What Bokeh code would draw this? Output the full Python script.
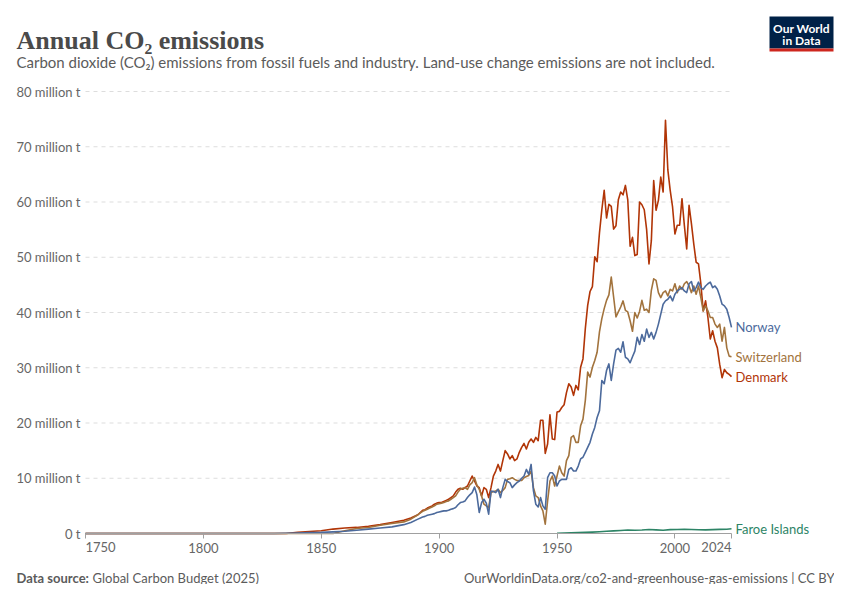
from bokeh.plotting import figure
from bokeh.models import Range1d, FixedTicker
from bokeh.core.properties import value
from bokeh.embed import file_html
from bokeh.resources import INLINE

# ---------------- data (million tonnes CO2) ----------------
years_annual = list(range(1896, 2025))

norway_early_years = [1750, 1830, 1835, 1840, 1845, 1850, 1855, 1860, 1865, 1870,
                      1875, 1880, 1885, 1888, 1891, 1893, 1894, 1895]
norway_early = [0, 0, 0.05, 0.1, 0.15, 0.2, 0.3, 0.4, 0.6, 0.8,
                1.0, 1.2, 1.6, 2.0, 2.6, 3.0, 3.1, 3.3]
norway_annual = [
    3.4, 3.5, 3.6, 3.8, 3.9, 4.0, 4.1, 4.1, 4.2, 4.4,
    4.5, 4.7, 5.2, 5.6, 5.7, 5.9, 6.5, 7.0, 7.4, 8.4,
    7.0, 3.8, 5.6, 6.2, 5.5, 3.5, 7.7, 7.6, 7.4, 8.0,
    6.5, 8.3, 9.8, 9.4, 9.2, 8.3, 8.8, 9.2, 9.5, 10.0,
    10.4, 11.6, 10.7, 12.5, 7.7, 5.3, 4.8, 6.5, 5.0, 4.4,
    10.1, 11.0, 11.0, 10.4, 8.6,
    9.5, 9.8, 9.8, 9.8, 11.6, 11.9, 11.3, 11.3, 12.2, 13.5,
    13.8, 14.7, 15.6, 16.5, 18.0, 19.2, 21.0, 22.2, 27.7, 27.1,
    29.5, 30.7, 27.7, 30.7, 33.2, 33.5, 32.8, 34.7, 31.9, 31.6,
    30.9, 32.0, 33.0, 35.5, 34.2, 36.0, 34.8, 37.0, 35.5, 36.4,
    35.2, 36.4, 37.9, 39.7, 41.5, 42.1, 42.4, 43.0, 42.1, 43.3,
    43.9, 44.2, 44.5, 43.9, 43.6, 45.2, 45.6, 43.9, 44.5, 45.5,
    44.5, 44.2, 44.8, 45.2, 45.5, 44.5, 44.8, 44.2, 43.0, 41.5,
    41.2, 40.6, 39.1, 37.3,
]

switzerland_early_years = [1750, 1855, 1858, 1860, 1865, 1870, 1875, 1880, 1885,
                           1888, 1891, 1893, 1894, 1895]
switzerland_early = [0, 0, 0.3, 0.5, 0.9, 1.1, 1.5, 1.8, 2.1,
                     2.6, 3.4, 4.0, 4.2, 4.4]
switzerland_annual = [
    4.6, 4.8, 5.0, 5.3, 5.4, 5.5, 5.6, 5.8, 5.9, 6.2,
    6.5, 6.8, 7.5, 8.0, 8.2, 8.3, 8.0, 8.8, 9.2, 10.1,
    8.8, 8.0, 6.8, 5.3, 5.0, 4.7, 7.4, 7.6, 7.7, 8.0,
    7.4, 7.8, 8.3, 9.8, 9.9, 10.1, 9.8, 9.6, 9.6, 9.6,
    10.1, 10.3, 10.5, 11.3, 8.3, 6.8, 6.5, 5.0, 4.1, 1.7,
    5.9, 9.5, 10.4, 8.6, 10.4,
    12.2, 11.0, 10.4, 13.2, 14.1, 17.4, 17.7, 16.5, 16.5, 19.5,
    20.7, 24.1, 29.2, 28.3, 30.1, 31.3, 32.8, 36.5, 38.9, 40.7,
    42.2, 43.2, 46.4, 42.8, 39.2, 40.1, 41.0, 42.1, 40.4, 40.1,
    38.5, 36.6, 40.0, 39.0, 40.2, 42.2, 40.4, 40.6, 40.0, 44.0,
    46.1, 45.8, 43.6, 42.7, 43.6, 43.9, 43.0, 44.2, 43.9, 45.2,
    43.6, 44.8, 44.2, 45.2, 45.6, 44.8, 43.6, 44.8, 43.3, 44.8,
    42.7, 40.3, 41.2, 40.3, 39.1, 39.1, 37.9, 37.3, 37.9, 34.8,
    37.3, 33.6, 32.1, 32.0,
]

denmark_early_years = [1750, 1835, 1840, 1845, 1850, 1855, 1860, 1865, 1870, 1875,
                       1880, 1885, 1888, 1891, 1893, 1894, 1895]
denmark_early = [0, 0, 0.2, 0.35, 0.5, 0.8, 1.0, 1.1, 1.3, 1.6,
                 2.0, 2.4, 2.8, 3.4, 4.2, 4.3, 4.6]
denmark_annual = [
    4.8, 5.0, 5.3, 5.5, 5.6, 5.6, 5.8, 6.0, 6.2,
    6.5, 6.8, 7.5, 8.0, 8.2, 8.0, 8.3, 8.6, 9.5, 10.4,
    9.5, 8.6, 8.3, 6.8, 8.3, 8.0, 6.5, 8.3, 10.4, 11.3,
    12.5, 11.3, 13.2, 15.0, 14.4, 13.5, 14.1, 13.2, 13.5, 14.7,
    15.6, 16.3, 15.3, 16.5, 17.1, 16.5, 17.4, 16.8, 20.5, 20.5,
    14.5, 16.2, 21.5, 17.1, 17.0, 22.0,
    22.1, 22.8, 23.3, 25.5, 27.1, 26.5, 25.0, 26.8, 26.0, 30.1,
    31.6, 37.1, 41.3, 43.8, 44.7, 50.1, 49.2, 54.4, 58.6, 62.1,
    57.1, 59.6, 59.2, 55.1, 55.7, 60.4, 61.8, 61.3, 63.0, 60.4,
    52.0, 53.6, 50.3, 50.5, 60.0, 59.5, 58.6, 55.0, 48.8, 53.0,
    63.9, 58.5, 60.3, 64.5, 61.8, 74.8, 65.8, 62.1, 59.1, 54.2,
    55.8, 55.8, 60.6, 55.8, 51.5, 59.4, 56.1, 52.4, 49.1, 48.8,
    45.2, 40.3, 42.1, 39.1, 35.2, 36.7, 34.8, 33.6, 30.6, 28.2,
    29.7, 29.1, 28.8, 28.4,
]

faroe_years = [1950, 1953, 1956, 1959, 1962, 1965, 1968, 1971, 1974, 1977, 1980,
               1983, 1986, 1989, 1992, 1995, 1998, 2001, 2004, 2007, 2010, 2013,
               2016, 2019, 2022, 2024]
faroe = [0.05, 0.08, 0.12, 0.15, 0.2, 0.25, 0.32, 0.4, 0.48, 0.55, 0.62,
         0.6, 0.62, 0.72, 0.65, 0.6, 0.7, 0.72, 0.75, 0.72, 0.68, 0.65,
         0.7, 0.75, 0.78, 0.85]

y_ticks = [0, 10, 20, 30, 40, 50, 60, 70, 80]
y_tick_labels = ["0 t", "10 million t", "20 million t", "30 million t", "40 million t",
                 "50 million t", "60 million t", "70 million t", "80 million t"]
x_ticks = [1750, 1800, 1850, 1900, 1950, 2000, 2024]

series = [
    ("Denmark", denmark_early_years + years_annual, denmark_early + denmark_annual, "#B13507"),
    ("Switzerland", switzerland_early_years + years_annual, switzerland_early + switzerland_annual, "#A2733D"),
    ("Faroe Islands", faroe_years, faroe, "#2D8466"),
    ("Norway", norway_early_years + years_annual, norway_early + norway_annual, "#4C6A9C"),
]

# ---------------- layout geometry (pixels on the page) ----------------
W, H = 834, 584
X_START, X_END = 1750, 2024
PX_LEFT, PX_RIGHT = 85, 731      # x pixel of X_START / X_END
PX_BOTTOM, PX_TOP = 533, 91      # y pixel of 0 / 80
Y_TOP = 80

kx = (X_END - X_START) / (PX_RIGHT - PX_LEFT)
ky = Y_TOP / (PX_BOTTOM - PX_TOP)


def dx(px):
    return X_START + (px - PX_LEFT) * kx


def dy(py):
    return (PX_BOTTOM - py) * ky


FONT = "Lato"
GREY = "#5b5b5b"
AXIS_GREY = "#666666"

p = figure(width=W, height=H, output_backend="svg", toolbar_location=None,
           x_range=Range1d(dx(0), dx(W)), y_range=Range1d(dy(H), dy(0)),
           min_border=0, min_border_left=0, min_border_right=0,
           min_border_top=0, min_border_bottom=0)
p.title.visible = False
p.outline_line_color = None
p.background_fill_color = "white"
p.border_fill_color = "white"
p.xgrid.grid_line_color = None
p.ygrid.grid_line_color = None

# axes drawn inside the frame at fixed locations
p.yaxis.fixed_location = X_START
p.yaxis.bounds = (0, Y_TOP)
p.yaxis.ticker = FixedTicker(ticks=y_ticks)
p.yaxis.major_label_overrides = {t: s for t, s in zip(y_ticks, y_tick_labels)}
p.yaxis.axis_line_color = None
p.yaxis.major_tick_line_color = None
p.yaxis.major_tick_in = 0
p.yaxis.major_tick_out = 0
p.yaxis.minor_tick_line_color = None
p.yaxis.minor_tick_out = 0
p.yaxis.major_label_standoff = 5
p.yaxis.major_label_text_font = FONT
p.yaxis.major_label_text_font_size = "13px"
p.yaxis.major_label_text_color = AXIS_GREY

p.xaxis.fixed_location = 0
p.xaxis.bounds = (X_START, X_END)
p.xaxis.ticker = FixedTicker(ticks=x_ticks)
p.xaxis.major_label_overrides = {X_START: "", X_END: ""}
p.xaxis.axis_line_color = "#a0a0a0"
p.xaxis.major_tick_line_color = "#a0a0a0"
p.xaxis.major_tick_in = 0
p.xaxis.major_tick_out = 5
p.xaxis.minor_tick_line_color = None
p.xaxis.major_label_standoff = 4
p.xaxis.major_label_text_font = FONT
p.xaxis.major_label_text_font_size = "13px"
p.xaxis.major_label_text_color = AXIS_GREY

# dashed horizontal grid lines between the axis ends
grid_vals = y_ticks[1:]
p.segment(x0=[X_START] * len(grid_vals), x1=[X_END] * len(grid_vals),
          y0=grid_vals, y1=grid_vals, line_color="#dddddd", line_width=1,
          line_dash="4 4", level="underlay")

# first / last x tick labels aligned to the axis ends
p.text(x=[X_START], y=[dy(541)], text=["1750"], text_align="left", text_baseline="top",
       text_font=value(FONT), text_font_size="13px", text_color=AXIS_GREY)
p.text(x=[X_END], y=[dy(541)], text=["2024"], text_align="right", text_baseline="top",
       text_font=value(FONT), text_font_size="13px", text_color=AXIS_GREY)

# series lines + end labels
for name, xs, ys, color in series:
    p.line(xs, ys, line_color=color, line_width=1.6, line_join="round")
for name, xs, ys, color in series:
    p.text(x=[xs[-1]], y=[ys[-1]], text=[name], x_offset=4, text_baseline="middle",
           text_align="left", text_font=value(FONT), text_font_size="13px",
           text_color=color)

# header
p.text(x=[dx(16)], y=[dy(40)], text=["Annual CO\u2082 emissions"],
       text_font=value("Liberation Serif"), text_font_size="26px", text_font_style="bold",
       text_color="#4a4a4a", text_baseline="alphabetic", text_align="left")
p.text(x=[dx(16)], y=[dy(61)],
       text=["Carbon dioxide (CO\u2082) emissions from fossil fuels and industry. "
             "Land-use change emissions are not included."],
       text_font=value(FONT), text_font_size="15px", text_color=GREY,
       text_baseline="middle", text_align="left")

# logo
p.quad(left=[dx(769)], right=[dx(833)], top=[dy(16)], bottom=[dy(48)],
       fill_color="#002147", line_color=None)
p.quad(left=[dx(769)], right=[dx(833)], top=[dy(48)], bottom=[dy(51)],
       fill_color="#CE261E", line_color=None)
p.text(x=[dx(801), dx(801)], y=[dy(28), dy(40)], text=["Our World", "in Data"],
       text_font=value(FONT), text_font_size="12px", text_font_style="bold",
       text_color="white", text_align="center", text_baseline="middle")

# footer
p.text(x=[dx(16)], y=[dy(577)], text=["Data source:"], text_font=value(FONT),
       text_font_size="13px", text_font_style="bold", text_color=GREY,
       text_baseline="middle", text_align="left")
p.text(x=[dx(92)], y=[dy(577)], text=["Global Carbon Budget (2025)"], text_font=value(FONT),
       text_font_size="13px", text_color=GREY, text_baseline="middle", text_align="left")
p.text(x=[dx(834)], y=[dy(577)],
       text=["OurWorldinData.org/co2-and-greenhouse-gas-emissions | CC BY"],
       text_font=value(FONT), text_font_size="13px", text_color=GREY,
       text_baseline="middle", text_align="right")

open("out.html", "w").write(file_html(p, INLINE))
